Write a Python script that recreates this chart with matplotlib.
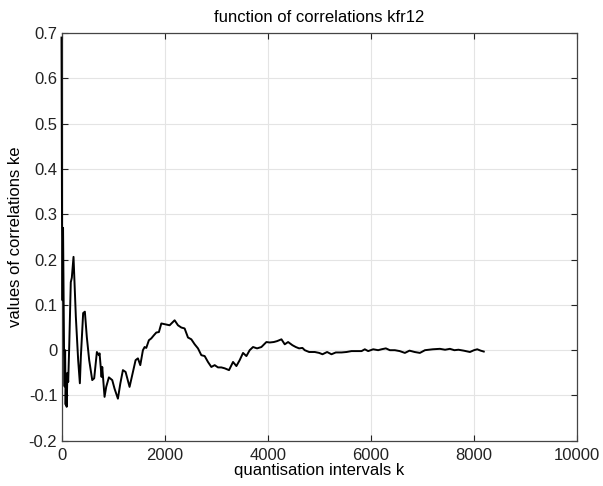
import matplotlib
matplotlib.use("Agg")
import matplotlib.pyplot as plt

# correlation function kfr12, sampled at quantisation interval k
k = [0, 10, 20, 30, 40, 50, 60, 70, 80, 90, 100, 115, 130, 150, 180, 200,
     233, 260, 278, 323, 356, 375, 420, 453, 491, 537, 596, 634, 686, 725,
     738, 777, 790, 835, 867, 919, 984, 1029, 1094, 1140, 1191, 1243, 1320,
     1385, 1437, 1482, 1528, 1579, 1612, 1644, 1695, 1741, 1792, 1839, 1889,
     1936, 2019, 2097, 2194, 2259, 2324, 2388, 2453, 2518, 2583, 2647, 2712,
     2777, 2841, 2906, 2971, 3035, 3100, 3165, 3249, 3327, 3392, 3456, 3521,
     3586, 3650, 3715, 3793, 3877, 3974, 4039, 4117, 4181, 4266, 4330, 4395,
     4479, 4544, 4608, 4673, 4718, 4803, 4913, 4997, 5062, 5152, 5236, 5320,
     5431, 5528, 5625, 5722, 5820, 5883, 5948, 6045, 6142, 6207, 6291, 6369,
     6466, 6560, 6660, 6750, 6850, 6951, 7050, 7200, 7340, 7440, 7534, 7620,
     7700, 7800, 7922, 8000, 8064, 8130, 8190]
ke = [0.690, 0.280, 0.110, 0.270, 0.120, -0.010, -0.080, 0.000, -0.120,
      -0.060, -0.125, -0.050, -0.070, 0.010, 0.150, 0.160, 0.206, 0.130,
      0.074, -0.022, -0.073, -0.015, 0.082, 0.085, 0.029, -0.022, -0.066,
      -0.062, -0.004, -0.011, -0.007, -0.059, -0.037, -0.103, -0.081, -0.060,
      -0.066, -0.085, -0.107, -0.074, -0.044, -0.048, -0.081, -0.048, -0.022,
      -0.018, -0.033, 0.000, 0.007, 0.005, 0.022, 0.026, 0.033, 0.039, 0.040,
      0.059, 0.057, 0.055, 0.066, 0.055, 0.050, 0.048, 0.028, 0.024, 0.013,
      0.004, -0.011, -0.013, -0.026, -0.037, -0.033, -0.038, -0.038, -0.040,
      -0.044, -0.026, -0.035, -0.022, -0.006, -0.013, 0.000, 0.007, 0.004,
      0.007, 0.018, 0.017, 0.018, 0.020, 0.024, 0.013, 0.018, 0.011, 0.007,
      0.004, 0.005, 0.000, -0.004, -0.004, -0.006, -0.009, -0.004, -0.009,
      -0.005, -0.005, -0.004, -0.002, -0.002, -0.002, 0.002, -0.002, 0.002,
      0.000, 0.002, 0.004, 0.000, 0.000, -0.002, -0.006, -0.001, -0.004,
      -0.006, 0.000, 0.002, 0.003, 0.001, 0.003, 0.000, 0.001, -0.001,
      -0.004, 0.000, 0.002, -0.001, -0.003]

x_ticks = [0, 2000, 4000, 6000, 8000, 10000]
y_ticks = [-0.2, -0.1, 0, 0.1, 0.2, 0.3, 0.4, 0.5, 0.6, 0.7]
y_labels = ["-0.2", "-0.1", "0", "0.1", "0.2", "0.3", "0.4", "0.5", "0.6", "0.7"]

plt.rcParams["font.family"] = ["Liberation Sans", "DejaVu Sans"]
plt.rcParams["font.size"] = 12

fig = plt.figure(figsize=(6.03, 4.86), dpi=100)
ax = fig.add_axes([0.102, 0.093, 0.855, 0.839])

# drawn above the spines so the spike at k=0 stays visible
ax.plot(k, ke, color="black", lw=1.4, zorder=3, clip_on=False)

ax.set_xlim(0, 10000)
ax.set_ylim(-0.2, 0.7)
ax.set_xticks(x_ticks)
ax.set_yticks(y_ticks)
ax.set_yticklabels(y_labels)
ax.grid(True, color="#e4e4e4", lw=0.8)
ax.tick_params(direction="in", length=4, width=0.8, top=True, right=True,
               colors="#222222", labelsize=12)
ax.tick_params(axis="x", pad=5)
ax.tick_params(axis="y", pad=3)
for s in ax.spines.values():
    s.set_color("#444444")
    s.set_linewidth(0.9)

ax.set_title("function of correlations kfr12", fontsize=12, pad=8)
ax.set_xlabel("quantisation intervals k", fontsize=12, labelpad=0)
ax.set_ylabel("values of correlations ke", fontsize=12, labelpad=4)

fig.savefig("out.png", dpi=100)
